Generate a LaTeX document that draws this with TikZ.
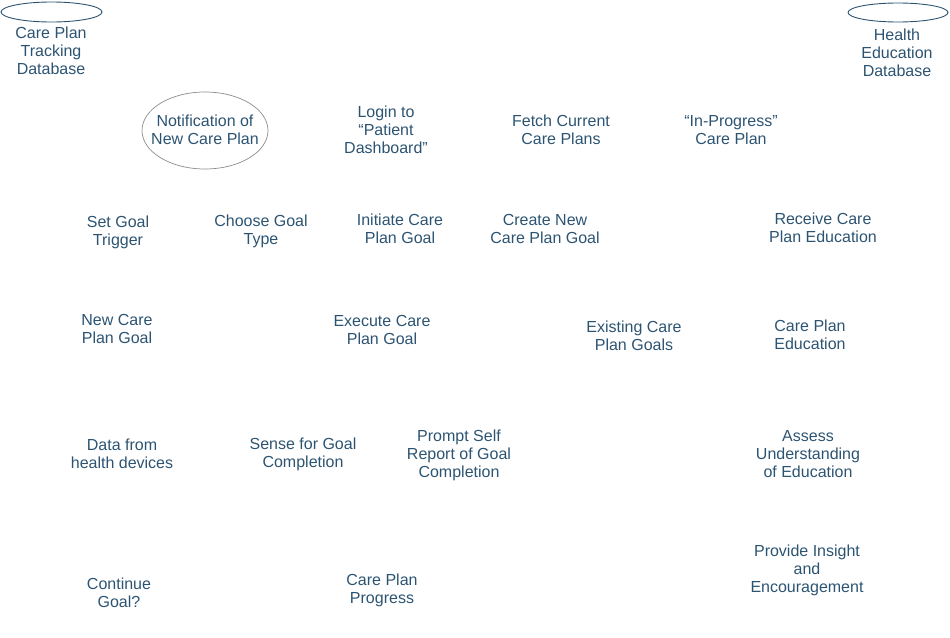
\documentclass[tikz,border=0pt]{standalone}
\usepackage{fontspec}
\setmainfont{Liberation Sans}
\usetikzlibrary{shapes.geometric}
\definecolor{txt}{RGB}{44,84,114}
\definecolor{greyline}{RGB}{140,140,140}
\begin{document}
\begin{tikzpicture}[x=1pt,y=-1pt,
  lbl/.style={text=txt,align=center,font=\fontsize{16}{18}\selectfont,inner sep=0pt},
  dbell/.style={draw=txt,ellipse,line width=0.9pt,inner sep=0pt},
  greyell/.style={draw=greyline,ellipse,line width=0.7pt,inner sep=0pt}]
\useasboundingbox (0,0) rectangle (950,637);
\node[dbell,minimum width=101pt,minimum height=20pt] (db1) at (51.5,12) {};
\node[dbell,minimum width=100pt,minimum height=19pt] (db2) at (898,12.5) {};
\node[greyell,minimum width=126pt,minimum height=77pt] (notifell) at (205,130.5) {};
\node[lbl] (cptd) at (51,51) {Care Plan\\Tracking\\Database};
\node[lbl] (hed) at (897,53) {Health\\Education\\Database};
\node[lbl] (notif) at (205,130) {Notification of\\New Care Plan};
\node[lbl] (login) at (386,130) {Login to\\“Patient\\Dashboard”};
\node[lbl] (fetch) at (561,130) {Fetch Current\\Care Plans};
\node[lbl] (inprog) at (731,130) {“In-Progress”\\Care Plan};
\node[lbl] (setgoal) at (118,232) {Set Goal\\Trigger};
\node[lbl] (choose) at (261,231) {Choose Goal\\Type};
\node[lbl] (initiate) at (400,229) {Initiate Care\\Plan Goal};
\node[lbl] (create) at (545,229) {Create New\\Care Plan Goal};
\node[lbl] (receive) at (823,228) {Receive Care\\Plan Education};
\node[lbl] (newgoal) at (117,329) {New Care\\Plan Goal};
\node[lbl] (execute) at (382,330) {Execute Care\\Plan Goal};
\node[lbl] (existing) at (634,336) {Existing Care\\Plan Goals};
\node[lbl] (cpedu) at (810,335) {Care Plan\\Education};
\node[lbl] (data) at (122,454) {Data from\\health devices};
\node[lbl] (sense) at (303,454) {Sense for Goal\\Completion};
\node[lbl] (prompt) at (459,455) {Prompt Self\\Report of Goal\\Completion};
\node[lbl] (assess) at (808,454) {Assess\\Understanding\\of Education};
\node[lbl] (insight) at (807,570) {Provide Insight\\and\\Encouragement};
\node[lbl] (progress) at (382,590) {Care Plan\\Progress};
\node[lbl] (continue) at (119,593) {Continue\\Goal?};
\end{tikzpicture}
\end{document}
